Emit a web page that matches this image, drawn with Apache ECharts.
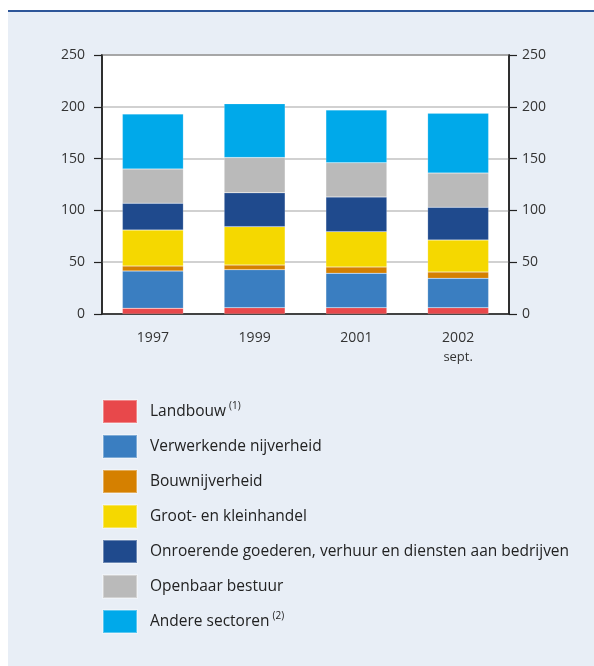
<!DOCTYPE html>
<html>
<head>
<meta charset="utf-8">
<script src="https://cdn.jsdelivr.net/npm/echarts@6/dist/echarts.min.js"></script>
<style>
	html, body { margin: 0; padding: 0; background: #fff; }
	#panel { position: absolute; left: 8px; top: 10px; width: 586px; height: 654px; background: #e8eef6; border-top: 2px solid #2d5699; }
	#chart { position: absolute; left: 0; top: 0; width: 594px; height: 666px; }
</style>
</head>
<body>
<div id="panel"></div>
<div id="chart"></div>
<script>
	var years = ['1997', '1999', '2001', '2002'];
	var sectorNames = [
		'Landbouw',
		'Verwerkende nijverheid',
		'Bouwnijverheid',
		'Groot- en kleinhandel',
		'Onroerende goederen, verhuur en diensten aan bedrijven',
		'Openbaar bestuur',
		'Andere sectoren'
	];
	var landbouw = [5.5, 6.1, 6.1, 6.1];
	var verwerkende = [36, 36.7, 33.2, 28.3];
	var bouw = [4.8, 4.5, 6.1, 6.1];
	var handel = [34.7, 37, 34.1, 30.9];
	var onroerend = [26, 32.7, 33.5, 31.6];
	var openbaar = [33, 34, 33, 33];
	var andere = [53, 52, 51, 57.7];
	var yTicks = [0, 50, 100, 150, 200, 250];

	var sectorValues = [landbouw, verwerkende, bouw, handel, onroerend, openbaar, andere];
	var sectorColors = ['#e8484b', '#3a7ec1', '#d58000', '#f5d800', '#1f4a8d', '#bababa', '#00a9ea'];
	var noteOf = { 'Landbouw': '(1)', 'Andere sectoren': '(2)' };

	var chart = echarts.init(document.getElementById('chart'));
	var fontName = 'Open Sans';

	var series = [];
	for (var i = 0; i < sectorNames.length; i++) {
		series.push({
			name: sectorNames[i],
			type: 'bar',
			stack: 'total',
			barWidth: 61,
			data: sectorValues[i],
			itemStyle: { color: sectorColors[i], borderColor: 'rgba(255,255,255,0.35)', borderWidth: 0.5 },
			emphasis: { disabled: true }
		});
	}

	function yAxis(pos) {
		return {
			type: 'value',
			position: pos,
			min: yTicks[0],
			max: yTicks[yTicks.length - 1],
			interval: 50,
			axisLine: { show: true, lineStyle: { color: '#222', width: 1.5 } },
			axisTick: { show: true, length: 8, lineStyle: { color: '#222', width: 1.2 } },
			axisLabel: { color: '#333', fontSize: 14, fontFamily: fontName, margin: pos == 'left' ? 17 : 13 },
			splitLine: { show: pos == 'left', lineStyle: { color: '#c2c2c2', width: 1.5 } }
		};
	}

	var option = {
		animation: false,
		grid: {
			left: 102, right: 85, top: 55, height: 259,
			show: true, backgroundColor: '#fff', borderColor: '#222', borderWidth: 1.5
		},
		xAxis: {
			type: 'category',
			data: years,
			axisLine: { show: true, lineStyle: { color: '#222', width: 1.5 } },
			axisTick: { show: false },
			axisLabel: {
				color: '#333', fontSize: 14, fontFamily: fontName, margin: 14, lineHeight: 20,
				formatter: function(v) { return v == '2002' ? v + '\n{s|sept.}' : v; },
				rich: { s: { fontSize: 13, fontFamily: fontName, color: '#333', lineHeight: 18 } }
			}
		},
		yAxis: [yAxis('left'), yAxis('right')],
		legend: {
			orient: 'vertical',
			left: 102,
			top: 399,
			padding: 0,
			itemWidth: 34,
			itemHeight: 23,
			itemGap: 10,
			icon: 'rect',
			selectedMode: false,
			data: sectorNames,
			formatter: function(name) {
				return noteOf[name] ? name + '{sup|' + noteOf[name] + '}' : name;
			},
			textStyle: {
				color: '#222', fontSize: 15.5, fontFamily: fontName, padding: [0, 0, 0, 8], lineHeight: 20,
				rich: { sup: { fontSize: 10, fontFamily: fontName, color: '#222', verticalAlign: 'top', lineHeight: 14, padding: [0, 0, 6, 3] } }
			}
		},
		series: series
	};

	chart.setOption(option);
</script>
</body>
</html>
